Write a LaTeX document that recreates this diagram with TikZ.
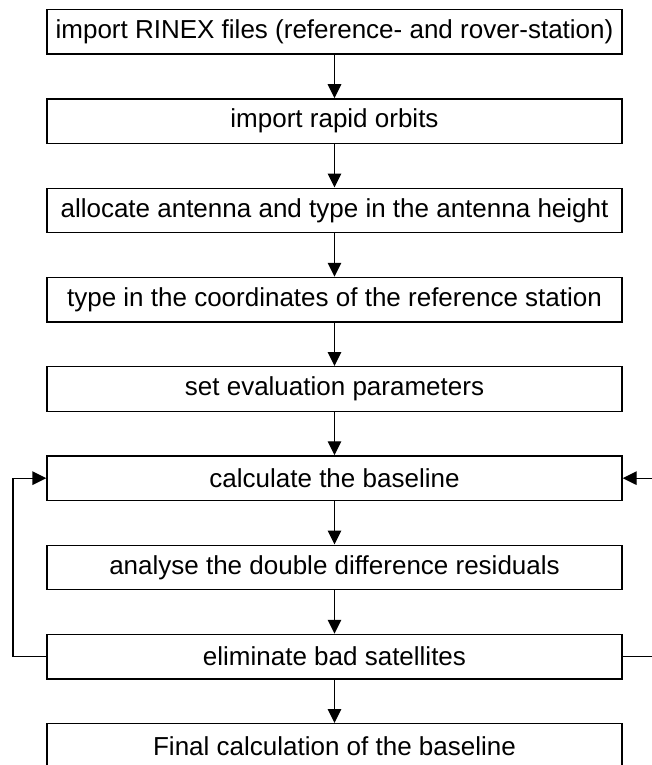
\documentclass[tikz,border=0pt]{standalone}
\usepackage{fontspec}
\setmainfont{Liberation Sans}
\usetikzlibrary{arrows.meta}
\begin{document}
\begin{tikzpicture}[x=1pt,y=-1pt,
  stepbox/.style={draw=black, line width=1.3pt, minimum width=575pt, minimum height=44.5pt, inner sep=0pt, anchor=north, font=\fontsize{26}{30}\selectfont},
  flow/.style={line width=1.3pt, -{Triangle[length=14pt,width=13.5pt]}},
  back/.style={line width=1.3pt, -{Triangle[length=14pt,width=13.5pt]}}]
\useasboundingbox (0,0) rectangle (652,765);
\node[stepbox] (b1) at (334.5,9) {import RINEX files (reference- and rover-station)};
\node[stepbox] (b2) at (334.5,98.25) {import rapid orbits};
\node[stepbox] (b3) at (334.5,187.5) {allocate antenna and type in the antenna height};
\node[stepbox] (b4) at (334.5,276.75) {type in the coordinates of the reference station};
\node[stepbox] (b5) at (334.5,366) {set evaluation parameters};
\node[stepbox] (b6) at (334.5,455.25) {calculate the baseline};
\node[stepbox] (b7) at (334.5,544.5) {analyse the double difference residuals};
\node[stepbox] (b8) at (334.5,633.75) {eliminate bad satellites};
\node[stepbox] (b9) at (334.5,723) {Final calculation of the baseline};
\draw[flow] (b1) -- (b2);
\draw[flow] (b2) -- (b3);
\draw[flow] (b3) -- (b4);
\draw[flow] (b4) -- (b5);
\draw[flow] (b5) -- (b6);
\draw[flow] (b6) -- (b7);
\draw[flow] (b7) -- (b8);
\draw[flow] (b8) -- (b9);
\coordinate (lx) at (13,0);
\coordinate (rx) at (680,0);
\draw[back] (b8.west) -- (b8.west -| lx) -- (b6.west -| lx) -- (b6.west);
\draw[back] (b8.east) -- (b8.east -| rx) -- (b6.east -| rx) -- (b6.east);
\end{tikzpicture}
\end{document}
